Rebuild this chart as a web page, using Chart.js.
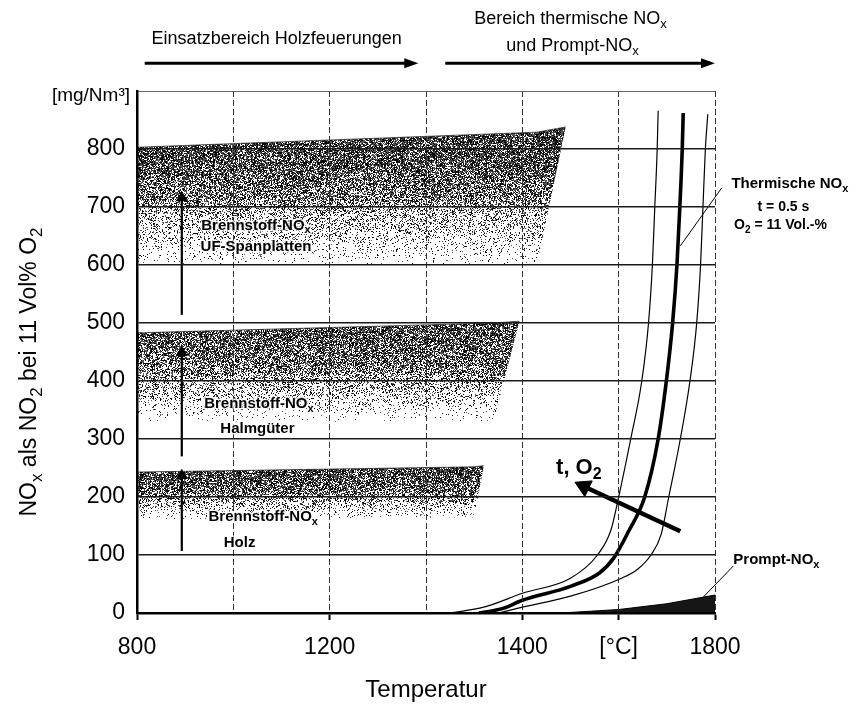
<!DOCTYPE html>
<html lang="de">
<head>
<meta charset="utf-8">
<title>NOx und Temperatur</title>
<script src="https://cdn.jsdelivr.net/npm/chart.js@4.4.1/dist/chart.umd.min.js"></script>
<style>
  body { margin: 0; background: #fff; }
  canvas { display: block; }
</style>
</head>
<body>
<canvas id="noxChart" width="858" height="712"></canvas>
<script>
// the original temperature axis is not linear: every grid step stands for one of these
const gridTemps = [800, 1000, 1200, 1300, 1400, 1600, 1800];
const xTickLabels = ['800', '', '1200', '', '1400', '[°C]', '1800'];
const yTickMax = 800;

// Brennstoff-NOx bands, upper and lower edge in mg/Nm3
const ufTemps = [800, 1430, 1490];
const ufTop = [803, 829, 838];
const ufBottom = [600, 600, 838];

const halmTemps = [800, 1370, 1397];
const halmTop = [483, 500, 503];
const halmBottom = [330, 330, 503];

const holzTemps = [800, 1350, 1360];
const holzTop = [243, 252, 254];
const holzBottom = [160, 165, 254];

// thermische NOx, three curves
const thermLowTemps = [1325, 1360, 1400, 1500, 1556, 1584, 1600, 1625, 1648, 1662, 1670, 1675, 1680, 1682];
const thermLowValues = [0, 10, 34, 60, 100, 143, 200, 300, 400, 500, 600, 700, 800, 866];

const thermMidTemps = [1355, 1380, 1400, 1500, 1560, 1590, 1620, 1654, 1682, 1699, 1712, 1721, 1727, 1732, 1734];
const thermMidValues = [0, 8, 22, 46, 69, 95, 140, 200, 300, 400, 500, 600, 700, 800, 862];

const thermHighTemps = [1375, 1400, 1500, 1606, 1640, 1667, 1688, 1704, 1728, 1748, 1762, 1770, 1775, 1780, 1785];
const thermHighValues = [0, 10, 29, 60, 76, 100, 135, 200, 300, 400, 500, 600, 700, 800, 860];

// prompt NOx wedge
const promptTemps = [1480, 1600, 1700, 1800];
const promptValues = [0, 6, 16, 31];

// arrows
const fuelArrowTemp = 893;
const ufArrow = [514, 716];
const halmArrow = [270, 449];
const holzArrow = [107, 237];
const trendTemps = [1728, 1528];
const trendValues = [141, 218];
const woodRange = [816, 1292];
const thermalRange = [1320, 1800];
const rangeLevel = 948;

const toPos = t => {
    let i = 0;
    while (i < gridTemps.length - 2 && t > gridTemps[i + 1]) i++;
    return i + (t - gridTemps[i]) / (gridTemps[i + 1] - gridTemps[i]);
};
const pts = (temps, values) => temps.map((t, i) => ({ x: toPos(t), y: values[i] }));
const flat = (temps, v) => temps.map(t => ({ x: toPos(t), y: v }));
const vertical = (t, values) => values.map(v => ({ x: toPos(t), y: v }));

const FONT = '"Liberation Sans", Arial, Helvetica, sans-serif';

// grainy fill like the scanned original; density follows the stops (value, darkness)
const hash = (x, y) => {
    let h = Math.imul(x, 374761393) + Math.imul(y, 668265263);
    h = Math.imul(h ^ (h >>> 13), 1274126177);
    h ^= h >>> 16;
    return (h >>> 0) / 4294967296;
};
const patternCache = {};
function stipple(name, stops) {
    return context => {
        const chart = context.chart;
        if (!chart.chartArea) return 'rgba(0,0,0,0)';
        const cached = patternCache[name];
        if (cached && cached.w === chart.width && cached.h === chart.height) return cached.pattern;
        const y = chart.scales.y;
        const off = document.createElement('canvas');
        off.width = chart.width;
        off.height = chart.height;
        const octx = off.getContext('2d');
        const img = octx.createImageData(off.width, off.height);
        const rows = stops.map(([v, d]) => [y.getPixelForValue(v), d]);
        for (let py = Math.floor(rows[0][0]) - 2; py <= Math.ceil(rows[rows.length - 1][0]) + 2; py++) {
            if (py < 0 || py >= off.height) continue;
            let d = py < rows[0][0] ? rows[0][1] : rows[rows.length - 1][1];
            for (let i = 0; i < rows.length - 1; i++) {
                if (py >= rows[i][0] && py <= rows[i + 1][0]) {
                    const f = (py - rows[i][0]) / (rows[i + 1][0] - rows[i][0]);
                    d = rows[i][1] + f * (rows[i + 1][1] - rows[i][1]);
                }
            }
            for (let px = 0; px < off.width; px++) {
                const k = (py * off.width + px) * 4;
                const r = hash(px, py);
                const g = r < d ? (r < d * 0.55 ? 10 : 85) : 255;
                img.data[k] = g; img.data[k + 1] = g; img.data[k + 2] = g; img.data[k + 3] = 255;
            }
        }
        octx.putImageData(img, 0, 0);
        const pattern = chart.ctx.createPattern(off, 'no-repeat');
        patternCache[name] = { w: chart.width, h: chart.height, pattern };
        return pattern;
    };
}

const band = (label, temps, top, bottom, stops) => [
    { label: label + ' oben', data: pts(temps, top), fill: '+1', backgroundColor: stipple(label, stops),
      borderColor: 'rgba(30,30,30,0.7)', borderWidth: 1, pointRadius: 0, order: 10 },
    { label: label + ' unten', data: pts(temps, bottom), fill: false,
      borderColor: 'rgba(0,0,0,0)', borderWidth: 0, pointRadius: 0, order: 10 }
];

const line = (label, data, width, extra) => Object.assign({
    label, data, borderColor: '#000', borderWidth: width, pointRadius: 0,
    fill: false, order: 1
}, extra || {});

const arrow = (label, data, width, head, rotation, extra) => line(label, data, width, Object.assign({
    pointStyle: 'triangle', pointRadius: [0, head], pointRotation: [0, rotation],
    pointBackgroundColor: '#000', pointBorderColor: '#000', pointBorderWidth: 1
}, extra || {}));

const datasets = [
    line('Thermische NOx min', pts(thermLowTemps, thermLowValues), 1.2, { cubicInterpolationMode: 'monotone' }),
    line('Thermische NOx', pts(thermMidTemps, thermMidValues), 3.6, { cubicInterpolationMode: 'monotone' }),
    line('Thermische NOx max', pts(thermHighTemps, thermHighValues), 1.2, { cubicInterpolationMode: 'monotone' }),
    line('Prompt-NOx', pts(promptTemps, promptValues), 1, { fill: 'origin', backgroundColor: '#161616' }),
    arrow('UF', vertical(fuelArrowTemp, ufArrow), 2.2, 6, 0),
    arrow('Halm', vertical(fuelArrowTemp, halmArrow), 2.2, 6, 0),
    arrow('Holz', vertical(fuelArrowTemp, holzArrow), 2.2, 6, 0),
    arrow('t, O2', pts(trendTemps, trendValues), 4.5, 10, -64.5),
    line('Holzfeuerungen', flat([woodRange[0], woodRange[1] - 10], rangeLevel), 3, { clip: false }),
    line('thermisch', flat([thermalRange[0], thermalRange[1] - 10], rangeLevel), 3, { clip: false }),
    line('Leader thermisch', pts([1728, 1814], [633, 733]), 1, { clip: false }),
    line('Leader prompt', pts([1766, 1838], [19, 81]), 1, { clip: false }),
    ...band('UF-Spanplatten', ufTemps, ufTop, ufBottom,
        [[840, 0.82], [770, 0.74], [715, 0.55], [690, 0.33], [630, 0.12], [598, 0.0]]),
    ...band('Halmgüter', halmTemps, halmTop, halmBottom,
        [[505, 0.78], [430, 0.62], [398, 0.36], [360, 0.14], [328, 0.0]]),
    ...band('Holz', holzTemps, holzTop, holzBottom,
        [[256, 0.82], [212, 0.66], [196, 0.36], [175, 0.14], [158, 0.0]])
];

function richText(ctx, parts, x, y, size, weight, align, halo) {
    const fontFor = sub => `${weight} ${sub ? Math.round(size * 0.72) : size}px ${FONT}`;
    let w = 0;
    parts.forEach(([txt, sub]) => { ctx.font = fontFor(sub); w += ctx.measureText(txt).width; });
    let cx = align === 'center' ? x - w / 2 : align === 'right' ? x - w : x;
    ctx.textAlign = 'left';
    parts.forEach(([txt, sub]) => {
        ctx.font = fontFor(sub);
        const ty = sub ? y + size * 0.32 : y;
        if (halo) {
            ctx.lineWidth = 3;
            ctx.lineJoin = 'round';
            ctx.strokeStyle = 'rgba(255,255,255,0.75)';
            ctx.strokeText(txt, cx, ty);
        }
        ctx.fillText(txt, cx, ty);
        cx += ctx.measureText(txt).width;
    });
}

function arrowHead(ctx, x, y, len, half) {
    ctx.beginPath();
    ctx.moveTo(x, y);
    ctx.lineTo(x - len, y - half);
    ctx.lineTo(x - len, y + half);
    ctx.closePath();
    ctx.fill();
}

const textPlugin = {
    id: 'noxText',
    afterDraw(chart) {
        const { ctx, chartArea } = chart;
        const px = t => chart.scales.x.getPixelForValue(toPos(t));
        const py = v => chart.scales.y.getPixelForValue(v);
        const fuel = [['Brennstoff-NO'], ['x', true]];
        ctx.save();
        ctx.fillStyle = '#000';
        ctx.textBaseline = 'middle';

        arrowHead(ctx, px(woodRange[1]), py(rangeLevel), 14, 5);
        arrowHead(ctx, px(thermalRange[1]), py(rangeLevel), 14, 5);

        richText(ctx, [['Einsatzbereich Holzfeuerungen']], px(1090), py(990), 18, 'normal', 'center');
        richText(ctx, [['Bereich thermische NO'], ['x', true]], px(1500), py(1024), 18, 'normal', 'center');
        richText(ctx, [['und Prompt-NO'], ['x', true]], px(1504), py(978), 18, 'normal', 'center');
        richText(ctx, [['[mg/Nm³]']], chartArea.left - 7, chartArea.top + 5, 19, 'normal', 'right');

        richText(ctx, fuel, px(1047), py(668), 15, 'bold', 'center', true);
        richText(ctx, [['UF-Spanplatten']], px(1047), py(632), 15, 'bold', 'center', true);
        richText(ctx, fuel, px(1053), py(360), 15, 'bold', 'center', true);
        richText(ctx, [['Halmgüter']], px(1050), py(317), 15, 'bold', 'center', true);
        richText(ctx, fuel, px(1062), py(165), 15, 'bold', 'center', true);
        richText(ctx, [['Holz']], px(1013), py(121), 15, 'bold', 'center', true);

        richText(ctx, [['t, O'], ['2', true]], px(1470), py(250), 22, 'bold', 'left');
        richText(ctx, [['Thermische NO'], ['x', true]], px(1834), py(740), 15, 'bold', 'left');
        richText(ctx, [['t = 0.5 s']], px(1942), py(699), 14, 'bold', 'center');
        richText(ctx, [['O'], ['2', true], [' = 11 Vol.-%']], px(1936), py(668), 14, 'bold', 'center');
        richText(ctx, [['Prompt-NO'], ['x', true]], px(1838), py(91), 15, 'bold', 'left');

        richText(ctx, [['Temperatur']], (chartArea.left + chartArea.right) / 2, 690, 24, 'normal', 'center');

        ctx.translate(30, 372);
        ctx.rotate(-Math.PI / 2);
        richText(ctx, [['NO'], ['x', true], [' als NO'], ['2', true], [' bei 11 Vol% O'], ['2', true]],
            0, 0, 23, 'normal', 'center');
        ctx.restore();
    }
};

new Chart(document.getElementById('noxChart'), {
    type: 'line',
    data: { datasets },
    options: {
        responsive: false,
        animation: false,
        layout: { padding: { left: 0, right: 143, top: 91, bottom: 0 } },
        plugins: { legend: { display: false }, tooltip: { enabled: false } },
        scales: {
            x: {
                type: 'linear', min: 0, max: 6,
                afterFit: s => { s.height = 99; },
                border: { display: true, color: '#000', width: 2.5, dash: [6, 3], z: 2 },
                grid: {
                    z: 1, color: '#333', lineWidth: 1, drawTicks: true, tickLength: 7, tickWidth: 2,
                    tickColor: c => xTickLabels[c.index] ? '#000' : 'rgba(0,0,0,0)'
                },
                ticks: {
                    stepSize: 1, autoSkip: false, maxRotation: 0, padding: 14, color: '#000',
                    font: { family: FONT, size: 23 },
                    callback: v => xTickLabels[v] ?? ''
                }
            },
            y: {
                min: 0, max: 900,
                afterFit: s => { s.width = 137; },
                border: { display: true, color: '#000', width: 2.5, z: 2 },
                grid: {
                    z: 1, drawTicks: false,
                    color: c => c.tick && c.tick.value > yTickMax ? '#666' : '#1a1a1a',
                    lineWidth: c => c.tick && c.tick.value > yTickMax ? 1 : 1.6
                },
                ticks: {
                    stepSize: 100, padding: 12, color: '#000',
                    font: { family: FONT, size: 23 },
                    callback: v => v <= yTickMax ? String(v) : ''
                }
            }
        }
    },
    plugins: [textPlugin]
});
</script>
</body>
</html>
